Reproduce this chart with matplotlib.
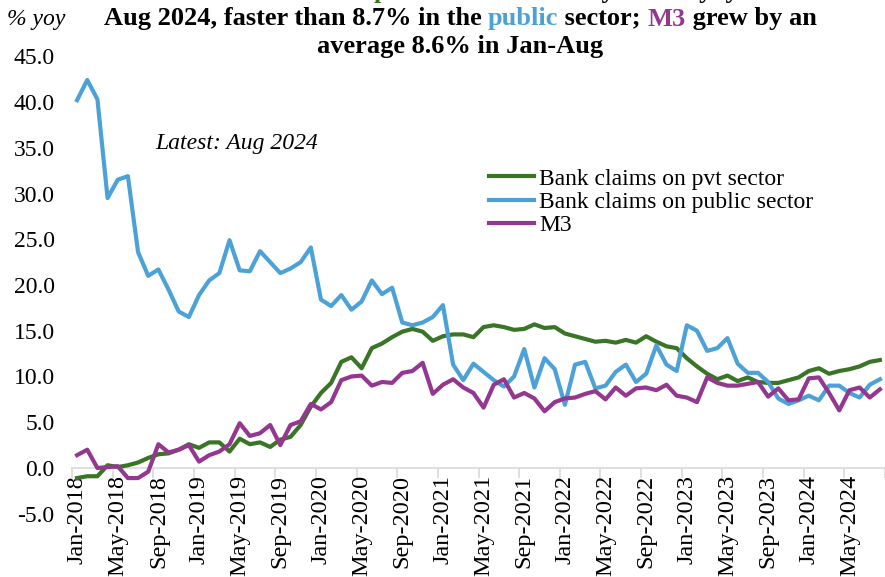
import matplotlib
matplotlib.use('Agg')
import matplotlib.pyplot as plt
from matplotlib.font_manager import FontProperties
import numpy as np

# ---------------- data ----------------
months = ['Jan', 'Feb', 'Mar', 'Apr', 'May', 'Jun', 'Jul', 'Aug', 'Sep', 'Oct', 'Nov', 'Dec']
years = [2018, 2019, 2020, 2021, 2022, 2023, 2024]
categories = [f"{m}-{y}" for y in years for m in months][:80]   # Jan-2018 .. Aug-2024

pvt_sector = [-1.1, -0.9, -0.9, 0.3, 0.1, 0.3, 0.6, 1.1, 1.5, 1.6, 2.0, 2.6,
              2.2, 2.8, 2.8, 1.8, 3.2, 2.6, 2.8, 2.3, 3.1, 3.4, 4.7, 6.7,
              8.2, 9.3, 11.6, 12.1, 10.9, 13.1, 13.6, 14.3, 14.9, 15.2, 14.9, 13.9,
              14.4, 14.6, 14.6, 14.3, 15.4, 15.6, 15.4, 15.1, 15.2, 15.7, 15.3, 15.4,
              14.7, 14.4, 14.1, 13.8, 13.9, 13.7, 14.0, 13.7, 14.4, 13.8, 13.3, 13.1,
              12.0, 11.1, 10.3, 9.7, 10.1, 9.5, 9.9, 9.4, 9.3, 9.3, 9.6, 9.9,
              10.6, 10.9, 10.3, 10.6, 10.8, 11.1, 11.6, 11.8]

public_sector = [40.2, 42.4, 40.3, 29.5, 31.5, 31.9, 23.6, 21.0, 21.7, 19.5, 17.1, 16.5,
                 18.9, 20.5, 21.3, 24.9, 21.6, 21.5, 23.7, 22.5, 21.3, 21.8, 22.5, 24.1,
                 18.4, 17.7, 18.9, 17.3, 18.2, 20.5, 19.0, 19.7, 15.9, 15.6, 15.9, 16.5,
                 17.8, 11.3, 9.6, 11.4, 10.5, 9.6, 8.9, 10.0, 13.0, 8.8, 12.0, 10.8,
                 6.9, 11.3, 11.6, 8.7, 9.0, 10.5, 11.3, 9.4, 10.3, 13.4, 11.3, 10.6,
                 15.6, 15.0, 12.8, 13.1, 14.2, 11.4, 10.4, 10.4, 9.4, 7.6, 7.0, 7.4,
                 7.9, 7.4, 9.0, 9.0, 8.2, 7.7, 9.1, 9.7]

m3 = [1.4, 2.0, 0.0, 0.1, 0.2, -1.1, -1.1, -0.4, 2.6, 1.7, 2.0, 2.5,
      0.7, 1.4, 1.8, 2.6, 4.9, 3.5, 3.8, 4.7, 2.5, 4.7, 5.1, 7.0,
      6.4, 7.2, 9.6, 10.0, 10.1, 9.0, 9.4, 9.3, 10.4, 10.6, 11.5, 8.1,
      9.1, 9.7, 8.8, 8.2, 6.6, 9.1, 9.7, 7.7, 8.2, 7.6, 6.2, 7.2,
      7.6, 7.7, 8.1, 8.4, 7.5, 8.8, 7.9, 8.7, 8.8, 8.5, 9.1, 7.9,
      7.7, 7.2, 9.9, 9.3, 9.0, 9.0, 9.2, 9.4, 7.8, 8.7, 7.4, 7.5,
      9.8, 9.9, 8.2, 6.3, 8.5, 8.8, 7.7, 8.6]

tick_labels = ['Jan-2018', 'May-2018', 'Sep-2018', 'Jan-2019', 'May-2019', 'Sep-2019',
               'Jan-2020', 'May-2020', 'Sep-2020', 'Jan-2021', 'May-2021', 'Sep-2021',
               'Jan-2022', 'May-2022', 'Sep-2022', 'Jan-2023', 'May-2023', 'Sep-2023',
               'Jan-2024', 'May-2024']
y_ticks = [-5, 0, 5, 10, 15, 20, 25, 30, 35, 40, 45]

series_names = ['Bank claims on pvt sector', 'Bank claims on public sector', 'M3']

# ---------------- style ----------------
GREEN = '#3A7527'
BLUE = '#4CA2D6'
PURPLE = '#943791'
SERIF = 'Liberation Serif'
FS = 17

plt.rcParams['font.family'] = [SERIF, 'DejaVu Serif']

W, H = 885, 577
fig = plt.figure(figsize=(W / 100, H / 100), dpi=100)

left_px, right_px = 72, 885
top_px, bot_px = 56.25, 513.75
ax = fig.add_axes([left_px / W, 1 - bot_px / H, (right_px - left_px) / W, (bot_px - top_px) / H])

x = np.arange(len(categories))
ax.plot(x, pvt_sector, color=GREEN, lw=3.0, solid_joinstyle='round', label=series_names[0], zorder=3)
ax.plot(x, public_sector, color=BLUE, lw=3.0, solid_joinstyle='round', label=series_names[1], zorder=4)
ax.plot(x, m3, color=PURPLE, lw=3.0, solid_joinstyle='round', label=series_names[2], zorder=5)

ax.set_xlim(-0.5, len(categories) - 0.5)
ax.set_ylim(-5, 45)

for s in ['left', 'right', 'top']:
    ax.spines[s].set_visible(False)
ax.spines['bottom'].set_position(('data', 0))
ax.spines['bottom'].set_color('#D9D9D9')
ax.spines['bottom'].set_linewidth(1.2)

# labels at category centres, tick marks at category boundaries
label_pos = [categories.index(lbl) for lbl in tick_labels]
ax.set_xticks(label_pos)
ax.set_xticklabels(tick_labels, rotation=90, fontsize=FS + 0.5, family=SERIF)
ax.tick_params(axis='x', which='major', length=0, pad=5)
ax.set_xticks(np.arange(-0.5, len(categories), 4), minor=True)
ax.tick_params(axis='x', which='minor', length=7, width=1.2, color='#D9D9D9', direction='out')

ax.set_yticks(y_ticks)
ax.set_yticklabels([f"{v:.1f}" for v in y_ticks], fontsize=FS, family=SERIF)
ax.tick_params(axis='y', length=0, pad=12.5)

# legend
leg = ax.legend(loc='upper left', bbox_to_anchor=(489 / W, 1 - 168 / H),
                bbox_transform=fig.transFigure, frameon=False,
                handlelength=1.9, handletextpad=0.22, labelspacing=0.08,
                borderpad=0, borderaxespad=0, prop={'family': SERIF, 'size': FS})

# annotations
fig.text(155 / W, 1 - 143 / H, 'Latest: Aug 2024', fontsize=FS, style='italic',
         family=SERIF, ha='left', va='center')
fig.text(7 / W, 1 - 20 / H, '% yoy', fontsize=FS, style='italic',
         family=SERIF, ha='left', va='center')

# title (multi-coloured lines)
TFS = 19
tprop = FontProperties(family=SERIF, weight='bold', size=TFS)
renderer = fig.canvas.get_renderer()


def text_w(s):
    w, _, _ = renderer.get_text_width_height_descent(s + '|', tprop, ismath=False)
    w0, _, _ = renderer.get_text_width_height_descent('|', tprop, ismath=False)
    return w - w0


def coloured_line(parts, cy_px, cx_px=460):
    full = ''.join(p for p, _ in parts)
    total = text_w(full)
    x0 = cx_px - total / 2
    prefix = ''
    for s, c in parts:
        off = text_w(prefix) if prefix else 0
        fig.text((x0 + off) / W, 1 - cy_px / H, s, color=c, fontproperties=tprop,
                 ha='left', va='center')
        prefix += s


coloured_line([('Bank claims on the ', 'black'), ('private', GREEN),
               (' sector rose by 11.8% yoy in', 'black')], -8)
coloured_line([('Aug 2024, faster than 8.7% in the ', 'black'), ('public', BLUE),
               (' sector; ', 'black'), ('M3', PURPLE), (' grew by an', 'black')], 19)
coloured_line([('average 8.6% in Jan-Aug', 'black')], 46)

fig.savefig('out.png', dpi=100)
